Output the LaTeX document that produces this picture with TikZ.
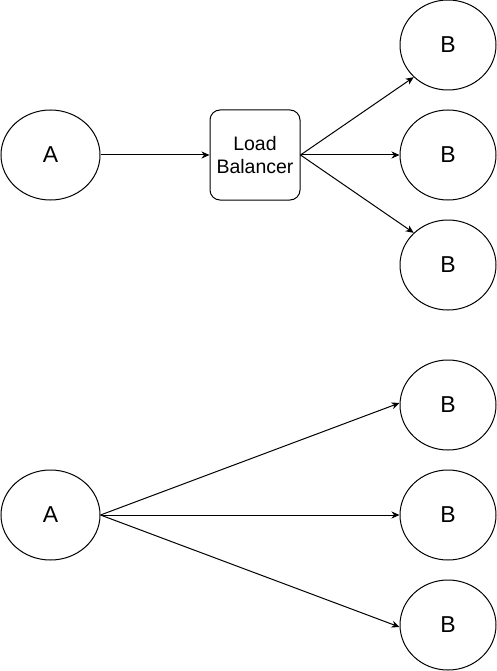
\documentclass[tikz,border=0pt]{standalone}
\usepackage{fontspec}
\setmainfont{Liberation Sans}
\usetikzlibrary{shapes.geometric,arrows.meta}
\begin{document}
\begin{tikzpicture}[x=1pt,y=-1pt,
  circ/.style={draw,line width=1pt,ellipse,minimum width=98pt,minimum height=90pt,inner sep=0pt,font=\fontsize{23}{26}\selectfont},
  lbbox/.style={draw,line width=1pt,rounded corners=10pt,minimum width=90pt,minimum height=90pt,inner sep=0pt,align=center,font=\fontsize{19.5}{23}\selectfont},
  conn/.style={line width=1pt,-{Stealth[length=8pt,width=7pt,inset=2.5pt]}}]
\useasboundingbox (0,0) rectangle (497,671);
% top
\node[circ,minimum width=99pt] (a1) at (50.5,155) {A};
\node[lbbox] (lb) at (255,155) {Load\\Balancer};
\node[circ,minimum width=96pt] (b1) at (448,45) {B};
\node[circ,minimum width=96pt] (b2) at (448,155) {B};
\node[circ,minimum width=96pt] (b3) at (448,265) {B};
\draw[conn] (a1.east) -- (lb.west);
\draw[conn] (lb.east) -- (b1.south west);
\draw[conn] (lb.east) -- (b2.west);
\draw[conn] (lb.east) -- (b3.north west);
% bottom
\node[circ,minimum width=99pt] (a2) at (50.5,515) {A};
\node[circ,minimum width=96pt] (c1) at (448,405) {B};
\node[circ,minimum width=96pt] (c2) at (448,515) {B};
\node[circ,minimum width=96pt] (c3) at (448,625) {B};
\draw[conn] (a2.east) -- ([yshift=2pt]c1.west);
\draw[conn] (a2.east) -- (c2.west);
\draw[conn] (a2.east) -- ([yshift=-2pt]c3.west);
\end{tikzpicture}
\end{document}
